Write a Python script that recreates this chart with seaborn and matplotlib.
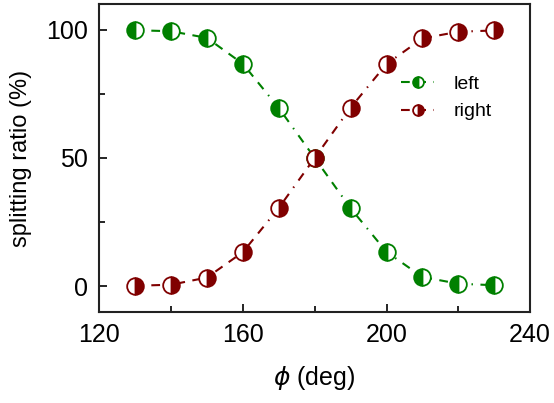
import numpy as np
import pandas as pd
import matplotlib
matplotlib.use("Agg")
import matplotlib.pyplot as plt
import seaborn as sns
from matplotlib.ticker import MultipleLocator

# ---------------------------------------------------------------------------
# Data
# ---------------------------------------------------------------------------
phi_deg = [130, 140, 150, 160, 170, 180, 190, 200, 210, 220, 230]
left_pct = [99.8, 99.4, 96.8, 86.7, 69.5, 50.0, 30.4, 13.4, 3.6, 1.0, 0.4]
right_pct = [0.2, 0.6, 3.4, 13.3, 30.5, 50.0, 69.6, 86.6, 96.6, 99.2, 99.7]

GREEN = "#008000"
DARK_RED = "#800000"

sns.set_style("ticks")
plt.rcParams["font.family"] = ["Liberation Sans", "DejaVu Sans"]
plt.rcParams["mathtext.fontset"] = "dejavusans"
plt.rcParams.update({
    "text.color": "black",
    "axes.labelcolor": "black",
    "xtick.color": "black",
    "ytick.color": "black",
    "axes.edgecolor": "black",
})

df = pd.DataFrame({"phi": phi_deg, "left": left_pct, "right": right_pct})

fig = plt.figure(figsize=(5.54, 4.03), dpi=100)
ax = fig.add_axes([0.179, 0.226, 0.778, 0.764])

marker_kws = dict(
    marker="o",
    markersize=12,
    markeredgewidth=1.3,
    markerfacecoloralt="white",
    linewidth=1.5,
    dashes=(4.2, 3.6, 4.2, 3.6, 0.7, 3.6),
)

sns.lineplot(data=df, x="phi", y="left", ax=ax, color=GREEN,
             markeredgecolor=GREEN, markerfacecolor=GREEN,
             fillstyle="left", label="left", errorbar=None, **marker_kws)
sns.lineplot(data=df, x="phi", y="right", ax=ax, color=DARK_RED,
             markeredgecolor=DARK_RED, markerfacecolor=DARK_RED,
             fillstyle="right", label="right", errorbar=None, **marker_kws)

ax.set_xlim(120, 240)
ax.set_ylim(-10, 110)
ax.xaxis.set_major_locator(MultipleLocator(40))
ax.xaxis.set_minor_locator(MultipleLocator(20))
ax.yaxis.set_major_locator(MultipleLocator(50))
ax.yaxis.set_minor_locator(MultipleLocator(25))
ax.tick_params(which="both", direction="in", top=False, right=False,
               labelsize=18, width=1.2, color="black")
ax.tick_params(which="major", length=6, pad=8)
ax.tick_params(which="minor", length=4)
for spine in ax.spines.values():
    spine.set_visible(True)
    spine.set_linewidth(1.5)
    spine.set_color("#222222")

ax.set_xlabel(r"$\phi$ (deg)", fontsize=18, labelpad=12)
ax.set_ylabel("splitting ratio (%)", fontsize=17, labelpad=10)

leg = ax.legend(loc="upper left", bbox_to_anchor=(0.66, 0.825), frameon=False,
                fontsize=14, handlelength=1.7, markerscale=0.65,
                handletextpad=1.0, labelspacing=0.5)

fig.savefig("out.png", dpi=100)
